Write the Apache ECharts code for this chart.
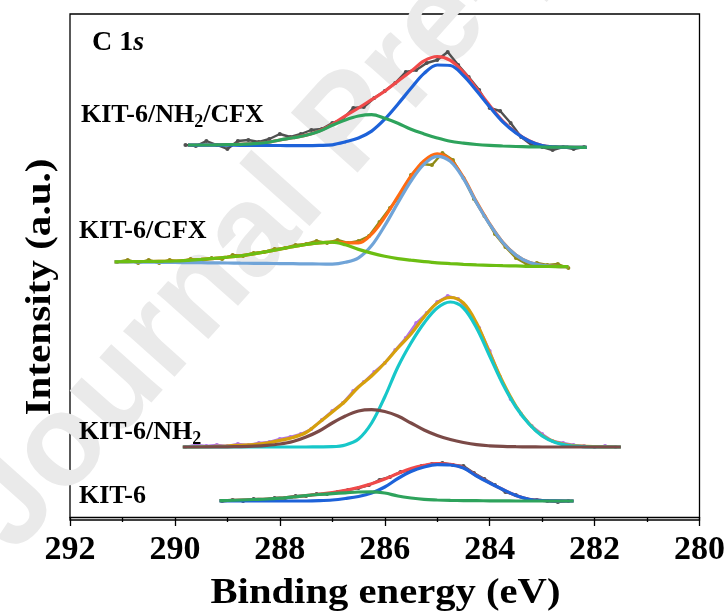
<!DOCTYPE html>
<html><head><meta charset="utf-8">
<script src="https://cdn.jsdelivr.net/npm/echarts/dist/echarts.min.js"></script>
<style>html,body{margin:0;padding:0;background:#fff}#c{width:728px;height:615px}</style>
</head><body><div id="c"></div>
<script>
// ---------------- data (binding energy in eV, intensity in arbitrary offset units) ----------------
const xMin = 280, xMax = 292, xStep = 2;
const xTitle = 'Binding energy (eV)';
const yTitle = 'Intensity (a.u.)';
const panelTitle = ['C 1', 's'];
const watermark = 'Journal Pre-proof';
const sampleNames = ['KIT-6/NH2/CFX', 'KIT-6/CFX', 'KIT-6/NH2', 'KIT-6'];

// KIT-6/NH2/CFX
const s1FitE = [289.75, 289.5, 289.25, 289.0, 288.75, 288.5, 288.25, 288.0, 287.75, 287.5, 287.25, 287.0, 286.75, 286.5, 286.25, 286.0, 285.75, 285.5, 285.25, 285.0, 284.75, 284.5, 284.25, 284.0, 283.75, 283.5, 283.25, 283.0, 282.75, 282.5, 282.25, 282.15];
const s1Main = [372.0, 371.9, 371.8, 371.8, 371.7, 371.6, 371.5, 371.5, 371.4, 371.4, 371.6, 372.2, 375.1, 379.0, 385.9, 397.8, 412.8, 428.7, 443.6, 452.0, 451.5, 441.4, 426.3, 410.2, 395.2, 384.1, 376.0, 371.4, 370.1, 369.8, 369.7, 369.7];
const s1Side = [372.0, 372.0, 372.1, 372.4, 372.7, 373.3, 374.5, 377.0, 379.2, 381.8, 385.7, 391.7, 397.1, 401.0, 402.4, 398.8, 393.8, 387.7, 383.1, 379.0, 375.7, 373.9, 372.5, 371.6, 371.0, 370.5, 370.2, 370.0, 369.8, 369.8, 369.7, 369.7];
const s1Env  = [372.0, 372.0, 372.1, 372.4, 372.7, 373.3, 374.5, 377.0, 379.2, 381.9, 386.1, 392.7, 401.1, 409.0, 417.4, 425.8, 435.8, 445.7, 456.1, 460.5, 456.7, 444.9, 428.5, 411.6, 396.0, 384.5, 376.2, 371.5, 370.1, 369.8, 369.7, 369.7];
const s1RawE = [289.8, 289.6, 289.4, 289.2, 289.0, 288.8, 288.6, 288.4, 288.2, 288.0, 287.8, 287.6, 287.4, 287.2, 287.0, 286.8, 286.6, 286.4, 286.2, 286.0, 285.8, 285.6, 285.4, 285.2, 285.0, 284.8, 284.6, 284.4, 284.2, 284.0, 283.8, 283.6, 283.4, 283.2, 283.0, 282.8, 282.6, 282.4, 282.2];
const s1Raw  = [372, 371, 376, 372, 368, 376, 377, 375, 378, 383, 380, 383, 387, 388, 394, 398, 409, 410, 419, 426, 434, 445, 447, 454, 457, 465, 452, 440, 427, 409, 406, 394, 380, 372, 370, 367, 370, 368, 370];

// KIT-6/CFX
const s2FitE = [291.15, 291.0, 290.75, 290.5, 290.25, 290.0, 289.75, 289.5, 289.25, 289.0, 288.75, 288.5, 288.25, 288.0, 287.75, 287.5, 287.25, 287.0, 286.75, 286.5, 286.25, 286.0, 285.75, 285.5, 285.25, 285.0, 284.75, 284.5, 284.25, 284.0, 283.75, 283.5, 283.25, 283.0, 282.75, 282.5];
const s2Main = [255.2, 255.1, 255.0, 254.8, 254.7, 254.5, 254.4, 254.3, 254.1, 254.0, 253.8, 253.7, 253.6, 253.4, 253.3, 253.1, 253.0, 252.9, 254.7, 259.1, 271.4, 291.3, 314.1, 336.0, 352.9, 360.7, 355.6, 338.4, 314.3, 292.7, 274.5, 261.9, 254.7, 251.6, 250.6, 250.3];
const s2Side = [255.2, 255.3, 255.5, 255.5, 255.7, 256.0, 256.7, 257.6, 258.6, 259.8, 261.2, 263.1, 265.4, 267.8, 270.3, 272.5, 274.2, 274.9, 272.2, 267.6, 263.9, 260.8, 258.4, 256.8, 255.4, 254.2, 253.4, 252.7, 252.1, 251.7, 251.3, 251.1, 250.7, 250.6, 250.4, 250.3];
const s2Env  = [255.2, 255.3, 255.5, 255.5, 255.7, 256.0, 256.7, 257.6, 258.6, 259.8, 261.2, 263.1, 265.4, 267.8, 270.3, 272.5, 274.2, 274.9, 274.2, 274.1, 282.9, 299.8, 320.4, 340.8, 356.4, 363.2, 357.4, 339.7, 315.1, 293.2, 274.8, 262.1, 254.7, 251.6, 250.6, 250.3];
const s2RawE = [291.1, 290.9, 290.7, 290.5, 290.3, 290.1, 289.9, 289.7, 289.5, 289.3, 289.1, 288.9, 288.7, 288.5, 288.3, 288.1, 287.9, 287.7, 287.5, 287.3, 287.1, 286.9, 286.7, 286.5, 286.3, 286.1, 285.9, 285.7, 285.5, 285.3, 285.1, 284.9, 284.7, 284.5, 284.3, 284.1, 283.9, 283.7, 283.5, 283.3, 283.1, 282.9, 282.7, 282.5];
const s2Raw  = [255, 257, 254, 257, 254, 257, 255, 258, 256, 259, 258, 262, 261, 264, 265, 268, 269, 272, 273, 276, 274, 277, 274, 276, 281, 295, 309, 322, 342, 353, 352, 364, 357, 339, 318, 301, 283, 270, 259, 253, 254, 252, 253, 249];

// KIT-6/NH2
const s3FitE = [289.85, 289.75, 289.5, 289.25, 289.0, 288.75, 288.5, 288.25, 288.0, 287.75, 287.5, 287.25, 287.0, 286.75, 286.5, 286.25, 286.0, 285.75, 285.5, 285.25, 285.0, 284.75, 284.5, 284.25, 284.0, 283.75, 283.5, 283.25, 283.0, 282.75, 282.5, 282.25, 282.0, 281.75, 281.5];
const s3Main = [70, 70, 70, 70, 70, 70, 70, 70, 70, 70, 70, 70.1, 70.3, 72.0, 78.0, 94.0, 120.0, 150.0, 174.0, 194.0, 209.0, 215.0, 209.0, 189.0, 161.0, 133.0, 110.0, 93.0, 81.0, 74.5, 71.5, 70.5, 70, 70, 70];
const s3Side = [70, 70, 70, 70.1, 70.2, 70.4, 70.8, 71.6, 73.0, 75.5, 80.0, 86.0, 94.0, 101.0, 106.0, 107.3, 105.5, 101.0, 94.0, 87.0, 81.5, 77.5, 74.5, 72.3, 71.2, 70.6, 70.3, 70.1, 70, 70, 70, 70, 70, 70, 70];
const s3Env  = [70.0, 70.0, 70.3, 70.6, 71.0, 71.7, 72.5, 74.0, 76.5, 79.5, 84.5, 94.5, 105, 116, 130, 141, 154, 169, 183, 200, 214, 219.5, 214, 194, 164, 135, 111, 93.5, 81.5, 75, 72, 70.8, 70.3, 70.1, 70.0];
const s3RawE = [289.8, 289.6, 289.4, 289.2, 289.0, 288.8, 288.6, 288.4, 288.2, 288.0, 287.8, 287.6, 287.4, 287.2, 287.0, 286.8, 286.6, 286.4, 286.2, 286.0, 285.8, 285.6, 285.4, 285.2, 285.0, 284.8, 284.6, 284.4, 284.2, 284.0, 283.8, 283.6, 283.4, 283.2, 283.0, 282.8, 282.6, 282.4, 282.2, 282.0, 281.8, 281.6];
const s3Raw  = [70, 72, 71, 72, 71, 73, 72, 74, 75, 78, 80, 83, 88, 97, 106, 114, 126, 135, 145, 154, 167, 179, 194, 204, 215, 221, 218, 206, 189, 166, 140, 118, 103, 91, 83, 76, 74, 72, 71, 70, 71, 70];

// KIT-6
const s4FitE = [289.15, 289.0, 288.75, 288.5, 288.25, 288.0, 287.75, 287.5, 287.25, 287.0, 286.75, 286.5, 286.25, 286.0, 285.75, 285.5, 285.25, 285.0, 284.75, 284.5, 284.25, 284.0, 283.75, 283.5, 283.25, 283.0, 282.75, 282.5, 282.4];
const s4Main = [16, 16, 16, 16, 16, 16, 16, 16, 16.3, 17.0, 18.5, 20.5, 24.0, 30.0, 38.5, 45.5, 50.0, 52.3, 52.0, 49.0, 41.0, 34.0, 27.5, 21.5, 17.8, 16.5, 16.1, 16, 16];
const s4Side = [16.3, 16.5, 17.0, 17.5, 18.0, 18.8, 20.0, 21.4, 22.5, 23.4, 24.2, 25.0, 25.2, 24.0, 21.0, 19.0, 17.6, 17.0, 16.6, 16.4, 16.3, 16.2, 16.1, 16, 16, 16, 16, 16, 16];
const s4Env  = [16.3, 16.5, 17.0, 17.5, 18.0, 18.8, 20.0, 21.4, 22.8, 24.4, 26.7, 29.5, 33.2, 38.0, 43.5, 48.5, 51.6, 53.3, 52.6, 49.4, 41.3, 34.2, 27.6, 21.5, 17.8, 16.5, 16.1, 16, 16];
const s4RawE = [289.1, 288.9, 288.7, 288.5, 288.3, 288.1, 287.9, 287.7, 287.5, 287.3, 287.1, 286.9, 286.7, 286.5, 286.3, 286.1, 285.9, 285.7, 285.5, 285.3, 285.1, 284.9, 284.7, 284.5, 284.3, 284.1, 283.9, 283.7, 283.5, 283.3, 283.1, 282.9, 282.7, 282.5];
const s4Raw  = [16, 17, 16, 18, 17, 19, 19, 21, 21, 23, 23, 25, 27, 29, 32, 37, 40, 45, 47, 51, 53, 54, 52, 51, 44, 38, 32, 25, 22, 18, 17, 16, 15, 16];

// ---------------- styling / layout ----------------
const SERIF = '"Liberation Serif", "Times New Roman", serif';
const SANS = '"Liberation Sans", Arial, sans-serif';
const spectra = [
  {E: s1FitE, main: s1Main, side: s1Side, env: s1Env, rE: s1RawE, raw: s1Raw,
   c: {raw: '#505050', env: '#f04a4a', main: '#1d62d9', side: '#2ea35c'}},
  {E: s2FitE, main: s2Main, side: s2Side, env: s2Env, rE: s2RawE, raw: s2Raw,
   c: {raw: '#8f8b16', env: '#ff6b12', main: '#70a4d8', side: '#6cbe12'}},
  {E: s3FitE, main: s3Main, side: s3Side, env: s3Env, rE: s3RawE, raw: s3Raw,
   c: {raw: '#b272e6', env: '#d6a00c', main: '#17c7c9', side: '#7b4a47'}},
  {E: s4FitE, main: s4Main, side: s4Side, env: s4Env, rE: s4RawE, raw: s4Raw,
   c: {raw: '#505050', env: '#f04a4a', main: '#1d62d9', side: '#2ea35c'}}
];
const pairs = (E, V) => E.map((e, i) => [e, V[i]]);
const series = [];
spectra.forEach((s, k) => {
  series.push({type: 'line', name: sampleNames[k] + ' raw', data: pairs(s.rE, s.raw), symbol: 'circle', symbolSize: 4,
    showSymbol: true, lineStyle: {color: s.c.raw, width: 2.4}, itemStyle: {color: s.c.raw}, z: 2, silent: true});
  series.push({type: 'line', name: sampleNames[k] + ' envelope', data: pairs(s.E, s.env), showSymbol: false, smooth: 0.35,
    lineStyle: {color: s.c.env, width: 3.2}, itemStyle: {color: s.c.env}, z: 3, silent: true});
  series.push({type: 'line', name: sampleNames[k] + ' main', data: pairs(s.E, s.main), showSymbol: false, smooth: 0.35,
    lineStyle: {color: s.c.main, width: 3.2}, itemStyle: {color: s.c.main}, z: 4, silent: true});
  series.push({type: 'line', name: sampleNames[k] + ' side', data: pairs(s.E, s.side), showSymbol: false, smooth: 0.35,
    lineStyle: {color: s.c.side, width: 3.2}, itemStyle: {color: s.c.side}, z: 5, silent: true});
});

// text helpers (measure with canvas for subscript placement / width matching)
const mctx = document.createElement('canvas').getContext('2d');
const measure = (t, f) => { mctx.font = f; return mctx.measureText(t).width; };

function richText(segments, x0, yMid) {
  const els = [];
  let x = x0;
  segments.forEach(seg => {
    const f = seg.font;
    els.push({type: 'text', x: x, y: yMid + (seg.dy || 0), z: 20,
      style: {text: seg.t, font: f, fill: '#000', align: 'left', verticalAlign: 'middle'}});
    x += measure(seg.t, f);
  });
  return els;
}
function labelSegments(name, size) {
  const main = 'bold ' + size + 'px ' + SERIF;
  const sub = 'bold ' + Math.round(size * 0.68) + 'px ' + SERIF;
  const parts = name.split(/(NH)(2)/).filter(p => p !== '');
  const segs = [];
  for (let i = 0; i < parts.length; i++) {
    if (parts[i] === '2' && parts[i - 1] === 'NH') segs.push({t: '2', font: sub, dy: 7});
    else {
      if (segs.length && !segs[segs.length - 1].dy) segs[segs.length - 1].t += parts[i];
      else segs.push({t: parts[i], font: main});
    }
  }
  return segs;
}
const labelPos = [[81, 115], [79, 231.5], [79, 432], [79, 496]];
let graphics = [];
// watermark
graphics.push({type: 'text', x: 36, y: 575, rotation: 0.84, z: 0, silent: true,
  style: {text: watermark, font: 'bold 130px ' + SANS, fill: '#eaeaea', align: 'left', verticalAlign: 'bottom'}});
// sample labels
sampleNames.forEach((n, i) => { graphics = graphics.concat(richText(labelSegments(n, 26), labelPos[i][0], labelPos[i][1])); });
// panel title "C 1s"
graphics = graphics.concat(richText([
  {t: panelTitle[0], font: 'bold 28px ' + SERIF},
  {t: panelTitle[1], font: 'italic bold 28px ' + SERIF}], 92, 42.5));
// axis titles, stretched to the reference widths
const titleFont = 'bold 35px ' + SERIF;
const sx = Math.min(1.25, Math.max(1, 350 / measure(xTitle, titleFont)));
const sy = Math.min(1.3, Math.max(1, 257 / measure(yTitle, titleFont)));
graphics.push({type: 'text', x: 385.5, y: 593.5, scaleX: sx, z: 20,
  style: {text: xTitle, font: titleFont, fill: '#000', align: 'center', verticalAlign: 'middle'}});
graphics.push({type: 'text', x: 41, y: 287, rotation: Math.PI / 2, scaleX: sy, z: 20,
  style: {text: yTitle, font: titleFont, fill: '#000', align: 'center', verticalAlign: 'middle'}});

const chart = echarts.init(document.getElementById('c'), null, {renderer: 'canvas'});
chart.setOption({
  animation: false,
  backgroundColor: '#fff',
  grid: {left: 70, right: 27, top: 14, bottom: 95, show: true, borderColor: '#000', borderWidth: 1.3, backgroundColor: 'transparent', containLabel: false},
  xAxis: {
    type: 'value', min: xMin, max: xMax, interval: xStep, inverse: true,
    axisLine: {show: true, lineStyle: {color: '#000', width: 1.3}},
    axisTick: {show: true, inside: false, length: 9, lineStyle: {color: '#000', width: 1.3}},
    minorTick: {show: true, splitNumber: 2, length: 5, lineStyle: {color: '#000', width: 1.3}},
    splitLine: {show: false}, minorSplitLine: {show: false},
    axisLabel: {show: true, margin: 13, color: '#000', fontFamily: SERIF, fontWeight: 'bold', fontSize: 34, showMinLabel: true, showMaxLabel: true}
  },
  yAxis: {type: 'value', min: -3, max: 503, show: false, splitLine: {show: false}},
  series: series,
  graphic: graphics
});
</script>
</body></html>
